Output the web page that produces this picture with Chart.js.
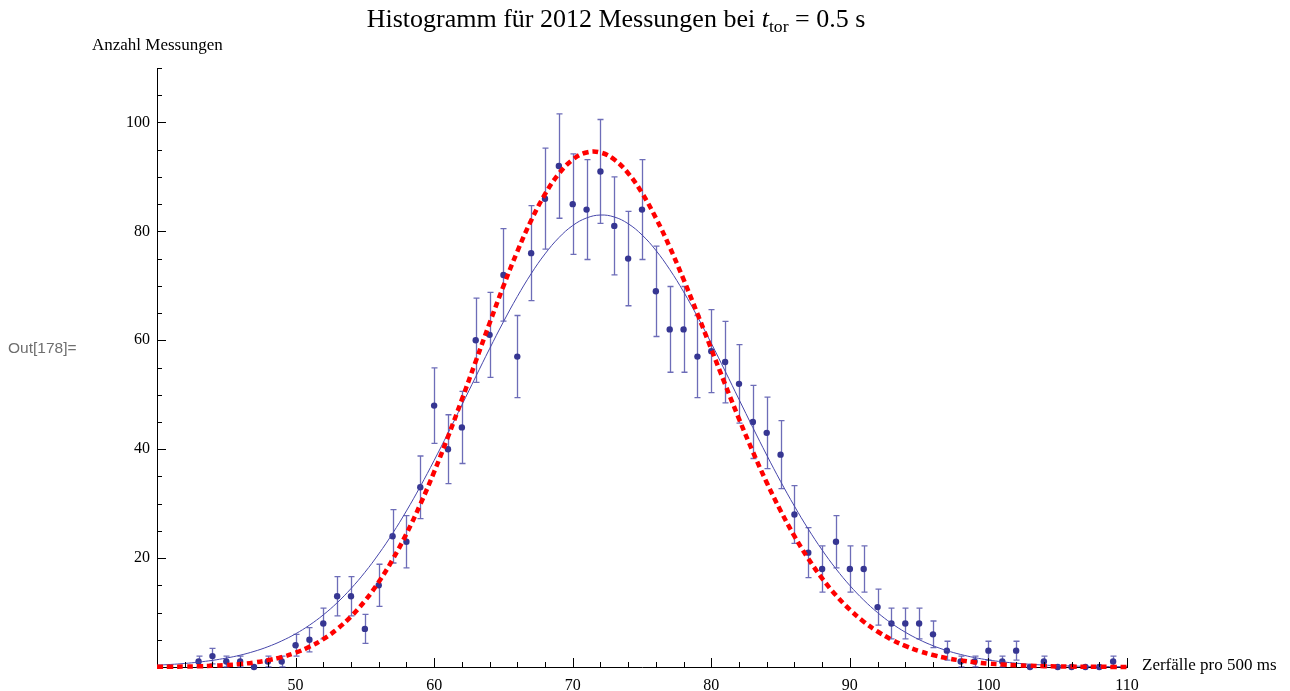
<!DOCTYPE html>
<html>
<head>
<meta charset="utf-8">
<title>Histogramm</title>
<script src="https://cdn.jsdelivr.net/npm/chart.js"></script>
<style>
  html, body { margin: 0; padding: 0; background: #fff; }
  body { width: 1290px; height: 691px; position: relative; overflow: hidden; font-family: "Liberation Serif", "Times New Roman", serif; color: #000; }
  canvas { position: absolute; left: 0; top: 0; }
  .txt { position: absolute; white-space: nowrap; line-height: 1; }
  #title { top: 6px; left: 0; width: 1232px; text-align: center; font-size: 26px; }
  #title sub { font-size: 0.68em; vertical-align: -0.3em; line-height: 0; }
  #ylabel { left: 92px; top: 36px; font-size: 17px; }
  #xlabel { left: 1142px; top: 656px; font-size: 17px; }
  #out { left: 8px; top: 340px; font-family: "Liberation Sans", Arial, sans-serif; font-size: 15.5px; color: #6e6e6e; }
</style>
</head>
<body>
<canvas id="chart" width="1290" height="691"></canvas>
<div class="txt" id="title">Histogramm für 2012 Messungen bei <i>t</i><sub>tor</sub> = 0.5 s</div>
<div class="txt" id="ylabel">Anzahl Messungen</div>
<div class="txt" id="xlabel">Zerfälle pro 500 ms</div>
<div class="txt" id="out">Out[178]=</div>
<script>
// measured histogram: decays per 500 ms gate, counts per bin
const bins = [43, 44, 45, 46, 47, 48, 49, 50, 51, 52, 53, 54, 55, 56, 57, 58, 59,
  60, 61, 62, 63, 64, 65, 66, 67, 68, 69, 70, 71, 72, 73, 74, 75, 76, 77, 78, 79,
  80, 81, 82, 83, 84, 85, 86, 87, 88, 89, 90, 91, 92, 93, 94, 95, 96, 97, 98, 99,
  100, 101, 102, 103, 104, 105, 106, 107, 108, 109];
const counts = [1, 2, 1, 1, 0, 1, 1, 4, 5, 8, 13, 13, 7, 15, 24, 23, 33,
  48, 40, 44, 60, 61, 72, 57, 76, 86, 92, 85, 84, 91, 81, 75, 84, 69, 62, 62, 57,
  58, 56, 52, 45, 43, 39, 28, 21, 18, 23, 18, 18, 11, 8, 8, 8, 6, 3, 1, 1,
  3, 1, 3, 0, 1, 0, 0, 0, 0, 1];

// curves at whole numbers 40..110
const curveX = [40, 41, 42, 43, 44, 45, 46, 47, 48, 49, 50, 51, 52, 53, 54, 55, 56, 57, 58, 59,
  60, 61, 62, 63, 64, 65, 66, 67, 68, 69, 70, 71, 72, 73, 74, 75, 76, 77, 78, 79,
  80, 81, 82, 83, 84, 85, 86, 87, 88, 89, 90, 91, 92, 93, 94, 95, 96, 97, 98, 99,
  100, 101, 102, 103, 104, 105, 106, 107, 108, 109, 110];
// blue: gauss fit
const fitCurve = [0.34, 0.47, 0.65, 0.9, 1.22, 1.64, 2.17, 2.86, 3.72, 4.79,
  6.09, 7.68, 9.57, 11.8, 14.4, 17.38, 20.76, 24.52, 28.66, 33.15,
  37.94, 42.95, 48.1, 53.3, 58.44, 63.39, 68.02, 72.22, 75.86, 78.84,
  81.07, 82.46, 83.0, 82.64, 81.41, 79.35, 76.52, 73.0, 68.91, 64.34,
  59.45, 54.34, 49.14, 43.97, 38.92, 34.09, 29.54, 25.32, 21.48, 18.02,
  14.96, 12.29, 9.99, 8.03, 6.39, 5.03, 3.91, 3.01, 2.3, 1.73,
  1.29, 0.95, 0.7, 0.5, 0.36, 0.25, 0.18, 0.12, 0.08, 0.06, 0.04];
// red dotted: poisson expectation
const poissonCurve = [0.03, 0.05, 0.08, 0.13, 0.22, 0.35, 0.54, 0.83, 1.24, 1.82,
  2.62, 3.7, 5.12, 6.95, 9.27, 12.13, 15.6, 19.71, 24.47, 29.86,
  35.83, 42.29, 49.11, 56.12, 63.14, 69.94, 76.3, 82.0, 86.82, 90.59,
  93.18, 94.49, 94.49, 93.19, 90.68, 87.05, 82.47, 77.12, 71.18, 64.87,
  58.39, 51.9, 45.57, 39.53, 33.88, 28.7, 24.03, 19.89, 16.27, 13.16,
  10.53, 8.33, 6.52, 5.05, 3.87, 2.93, 2.2, 1.63, 1.2, 0.87,
  0.63, 0.45, 0.32, 0.22, 0.15, 0.11, 0.07, 0.05, 0.03, 0.02, 0.01];

const xTicks = [50, 60, 70, 80, 90, 100, 110];
const yTicks = [20, 40, 60, 80, 100];

const dotColor = 'rgb(54, 54, 146)';
const barColor = 'rgba(60, 60, 160, 0.75)';
const fitColor = 'rgb(70, 70, 170)';
const serif = '"Liberation Serif", "Times New Roman", serif';

// error bars (sqrt N) under the dots
const errorBars = {
  id: 'errorBars',
  beforeDatasetsDraw(chart) {
    const { ctx, scales: { x, y } } = chart;
    ctx.save();
    ctx.strokeStyle = barColor;
    ctx.lineWidth = 1.3;
    counts.forEach((c, i) => {
      if (c <= 0) return;
      const e = Math.sqrt(c);
      const px = Math.round(x.getPixelForValue(bins[i])) + 0.5;
      const top = y.getPixelForValue(c + e);
      const bot = y.getPixelForValue(c - e);
      ctx.beginPath();
      ctx.moveTo(px, top); ctx.lineTo(px, bot);
      ctx.moveTo(px - 3, top); ctx.lineTo(px + 3, top);
      ctx.moveTo(px - 3, bot); ctx.lineTo(px + 3, bot);
      ctx.stroke();
    });
    ctx.restore();
  }
};

// mathematica style ticks pointing into the frame
const innerTicks = {
  id: 'innerTicks',
  afterDatasetsDraw(chart) {
    const { ctx, chartArea: a, scales: { x, y } } = chart;
    ctx.save();
    ctx.strokeStyle = '#000';
    ctx.lineWidth = 1;
    ctx.beginPath();
    for (let v = x.min + 2; v <= x.max; v += 2) {
      const px = Math.round(x.getPixelForValue(v)) + 0.5;
      const len = v % 10 === 0 ? 9 : 5;
      ctx.moveTo(px, a.bottom); ctx.lineTo(px, a.bottom - len);
    }
    for (let v = y.min + 5; v <= y.max; v += 5) {
      const py = Math.round(y.getPixelForValue(v)) + 0.5;
      const len = v % 20 === 0 ? 9 : 5;
      ctx.moveTo(a.left, py); ctx.lineTo(a.left + len, py);
    }
    ctx.stroke();
    ctx.restore();
  }
};

new Chart(document.getElementById('chart'), {
  type: 'scatter',
  data: {
    datasets: [
      {
        type: 'line',
        label: 'Poisson',
        data: curveX.map((v, i) => ({ x: v, y: poissonCurve[i] })),
        borderColor: 'rgb(255, 0, 0)',
        borderWidth: 4.5,
        borderDash: [6, 4],
        borderCapStyle: 'butt',
        pointRadius: 0,
        tension: 0.4,
        fill: false,
        clip: false,
        order: 0
      },
      {
        type: 'line',
        label: 'Fit',
        data: curveX.map((v, i) => ({ x: v, y: fitCurve[i] })),
        borderColor: fitColor,
        borderWidth: 1,
        pointRadius: 0,
        tension: 0.4,
        fill: false,
        clip: false,
        order: 1
      },
      {
        label: 'Messungen',
        data: bins.map((v, i) => ({ x: v, y: counts[i] })),
        backgroundColor: dotColor,
        borderColor: dotColor,
        borderWidth: 0,
        pointRadius: 3.2,
        clip: false,
        order: 2
      }
    ]
  },
  options: {
    responsive: false,
    animation: false,
    layout: { padding: { left: 0, top: 68, right: 163, bottom: 0 } },
    plugins: {
      legend: { display: false },
      tooltip: { enabled: false },
      title: { display: false }
    },
    scales: {
      x: {
        type: 'linear',
        min: 40,
        max: 110,
        afterFit: (s) => { s.height = 24; },
        afterBuildTicks: (s) => { s.ticks = xTicks.map(v => ({ value: v })); },
        grid: { display: false, drawTicks: false },
        border: { display: true, color: '#000', width: 1 },
        ticks: {
          autoSkip: false,
          maxRotation: 0,
          padding: 9,
          color: '#000',
          font: { family: serif, size: 16 }
        }
      },
      y: {
        type: 'linear',
        min: 0,
        max: 110,
        afterFit: (s) => { s.width = 157; },
        afterBuildTicks: (s) => { s.ticks = yTicks.map(v => ({ value: v })); },
        grid: { display: false, drawTicks: false },
        border: { display: true, color: '#000', width: 1 },
        ticks: {
          autoSkip: false,
          padding: 7,
          color: '#000',
          font: { family: serif, size: 16 }
        }
      }
    }
  },
  plugins: [errorBars, innerTicks]
});
</script>
</body>
</html>
